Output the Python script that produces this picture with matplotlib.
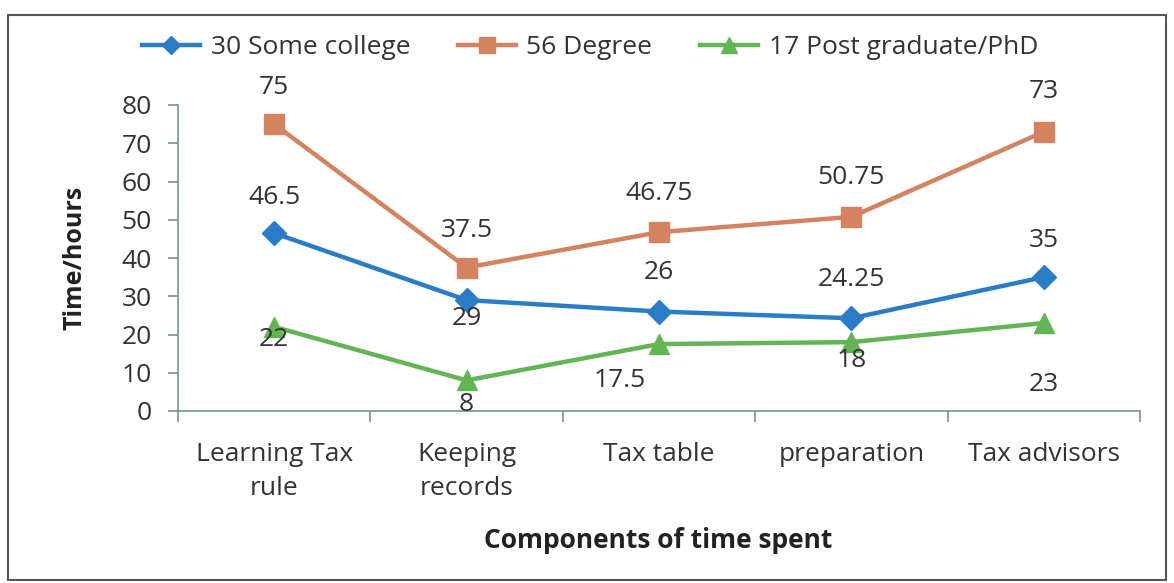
from matplotlib import pyplot as plt
from matplotlib.patches import Rectangle
import numpy as np

categories = ["Learning Tax\nrule", "Keeping\nrecords", "Tax table", "preparation", "Tax advisors"]
some_college = [46.5, 29, 26, 24.25, 35]
degree = [75, 37.5, 46.75, 50.75, 73]
post_grad = [22, 8, 17.5, 18, 23]
series_names = ["30 Some college", "56 Degree", "17 Post graduate/PhD"]

# label offsets in pixels (dx, dy) for each point, as placed in the original
off_college = [(0, 36), (0, -18), (0, 39), (0, 39), (0, 37)]
off_degree = [(0, 37), (0, 37), (0, 39), (0, 39), (0, 40)]
off_post = [(0, -13), (0, -24), (-39, -36), (0, -18), (0, -61)]

blue = "#2a7cc6"
orange = "#d4825f"
green = "#62b552"
txt = "#333333"
axis_col = "#6f9595"
fs = 19

plt.rcParams['font.family'] = ['Open Sans', 'DejaVu Sans']

fig = plt.figure(figsize=(11.74, 5.83), dpi=100)
ax = fig.add_axes([178 / 1174, 1 - 411 / 583, (1140 - 178) / 1174, (411 - 105) / 583])

x = np.arange(len(categories))
l1, = ax.plot(x, some_college, color=blue, lw=3.2, marker="D", ms=12, mec=blue, label=series_names[0])
l2, = ax.plot(x, degree, color=orange, lw=3.2, marker="s", ms=15, mec=orange, label=series_names[1])
l3, = ax.plot(x, post_grad, color=green, lw=3.2, marker="^", ms=15, mec=green, label=series_names[2])

for vals, offs in [(some_college, off_college), (degree, off_degree), (post_grad, off_post)]:
    for i, v in enumerate(vals):
        s = ("%g" % v)
        ax.annotate(s, (i, v), xytext=offs[i], textcoords="offset pixels",
                    ha="center", va="center", fontsize=fs, color=txt)

ax.set_xlim(-0.5, len(categories) - 0.5)
ax.set_ylim(0, 80)
ax.set_yticks(np.arange(0, 81, 10))
ax.set_xticks(x)
ax.set_xticklabels(categories, fontsize=fs, color=txt, linespacing=1.5)
ax.set_xticks(np.arange(-0.5, len(categories), 1), minor=True)
ax.tick_params(axis="x", which="major", length=0, pad=22)
ax.tick_params(axis="x", which="minor", length=8, color=axis_col, width=1.2)
ax.tick_params(axis="y", length=7, color=axis_col, width=1.2, labelsize=fs, labelcolor=txt, pad=12)
for sp in ["top", "right"]:
    ax.spines[sp].set_visible(False)
for sp in ["left", "bottom"]:
    ax.spines[sp].set_color(axis_col)
    ax.spines[sp].set_linewidth(1.2)
ax.patch.set_alpha(0)

ax.set_ylabel("Time/hours", fontsize=18, fontweight="bold", color="#222222")
ax.yaxis.set_label_coords(-0.094, 0.5)
fig.text(658 / 1174, 1 - 540 / 583, "Components of time spent", ha="center", va="center",
         fontsize=19, fontweight="bold", color="#222222")

fig.legend(handles=[l1, l2, l3], loc="center", bbox_to_anchor=(590 / 1174, 1 - 48 / 583), ncol=3,
           frameon=False, fontsize=fs, handlelength=2.2, columnspacing=1.8, handletextpad=0.4,
           markerscale=0.75, labelcolor=txt)

fig.patches.append(Rectangle((8 / 1174, 3 / 583), (1166 - 8) / 1174, (580 - 15) / 583,
                             transform=fig.transFigure, fill=False, ec="#555555", lw=1.5))

plt.savefig("out.png", dpi=100)
